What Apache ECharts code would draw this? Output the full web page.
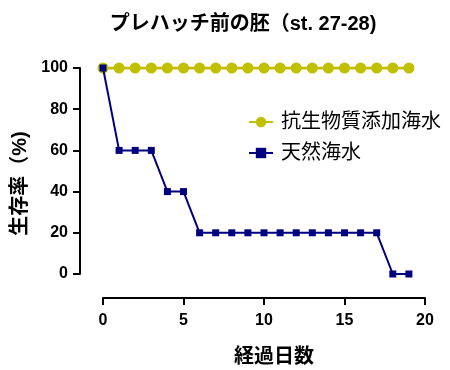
<!DOCTYPE html>
<html><head><meta charset="utf-8">
<script src="https://cdn.jsdelivr.net/npm/echarts@6/dist/echarts.min.js"></script>
<style>html,body{margin:0;padding:0;background:#fff}#c{width:450px;height:370px}</style>
</head><body><div id="c"></div>
<script>
const days = [0,1,2,3,4,5,6,7,8,9,10,11,12,13,14,15,16,17,18,19];
const antibiotic = [100,100,100,100,100,100,100,100,100,100,100,100,100,100,100,100,100,100,100,100];
const natural = [100,60,60,60,40,40,20,20,20,20,20,20,20,20,20,20,20,20,0,0];
const seriesNames = ['抗生物質添加海水','天然海水'];
const xTicks = [0,5,10,15,20];
const yTicks = [0,20,40,60,80,100];

const FF = '"Liberation Sans", "Noto Sans CJK JP", sans-serif';
const chart = echarts.init(document.getElementById('c'), null, {renderer:'canvas'});
chart.setOption({
  animation:false,
  title:{text:'プレハッチ前の胚（st. 27-28)', left:238, textAlign:'center', top:9,
    textStyle:{fontFamily:FF, fontSize:20, fontWeight:'bold', color:'#000'}},
  grid:{left:103, right:25, top:68, bottom:96, outerBoundsMode:'none', containLabel:false},
  legend:{left:243, top:107, orient:'vertical', itemGap:11, itemWidth:24, itemHeight:13,
    textStyle:{fontFamily:FF, fontSize:20, color:'#000', padding:[0,0,0,3]},
    data:seriesNames},
  xAxis:{type:'value', min:xTicks[0], max:xTicks[xTicks.length-1], interval:5, offset:24,
    name:'経過日数', nameLocation:'middle', nameGap:49,
    nameTextStyle:{fontFamily:FF, fontSize:20, fontWeight:'bold', color:'#000', padding:[0,0,0,20]},
    axisLine:{onZero:false, lineStyle:{color:'#000', width:2}},
    axisTick:{show:true, length:7, lineStyle:{color:'#000', width:2}},
    axisLabel:{fontFamily:FF, fontSize:16, fontWeight:'bold', color:'#000', margin:15},
    splitLine:{show:false}},
  yAxis:{type:'value', min:yTicks[0], max:yTicks[yTicks.length-1], interval:20, offset:23,
    name:'生存率（%)', nameLocation:'middle', nameGap:45, nameRotate:90,
    nameTextStyle:{fontFamily:FF, fontSize:20, fontWeight:'bold', color:'#000', padding:[0,25,0,0]},
    axisLine:{show:true, onZero:false, lineStyle:{color:'#000', width:2}},
    axisTick:{show:true, length:7, lineStyle:{color:'#000', width:2}},
    axisLabel:{fontFamily:FF, fontSize:16, fontWeight:'bold', color:'#000', margin:12},
    splitLine:{show:false}},
  series:[
    {name:seriesNames[0], type:'line', data:days.map((d,i)=>[d,antibiotic[i]]),
      symbol:'circle', symbolSize:11, itemStyle:{color:'#c0c000'}, lineStyle:{color:'#c0c000', width:3}, z:2},
    {name:seriesNames[1], type:'line', data:days.map((d,i)=>[d,natural[i]]),
      symbol:'rect', symbolSize:7, itemStyle:{color:'#000080'}, lineStyle:{color:'#000080', width:2}, z:3}
  ]
});
</script></body></html>
